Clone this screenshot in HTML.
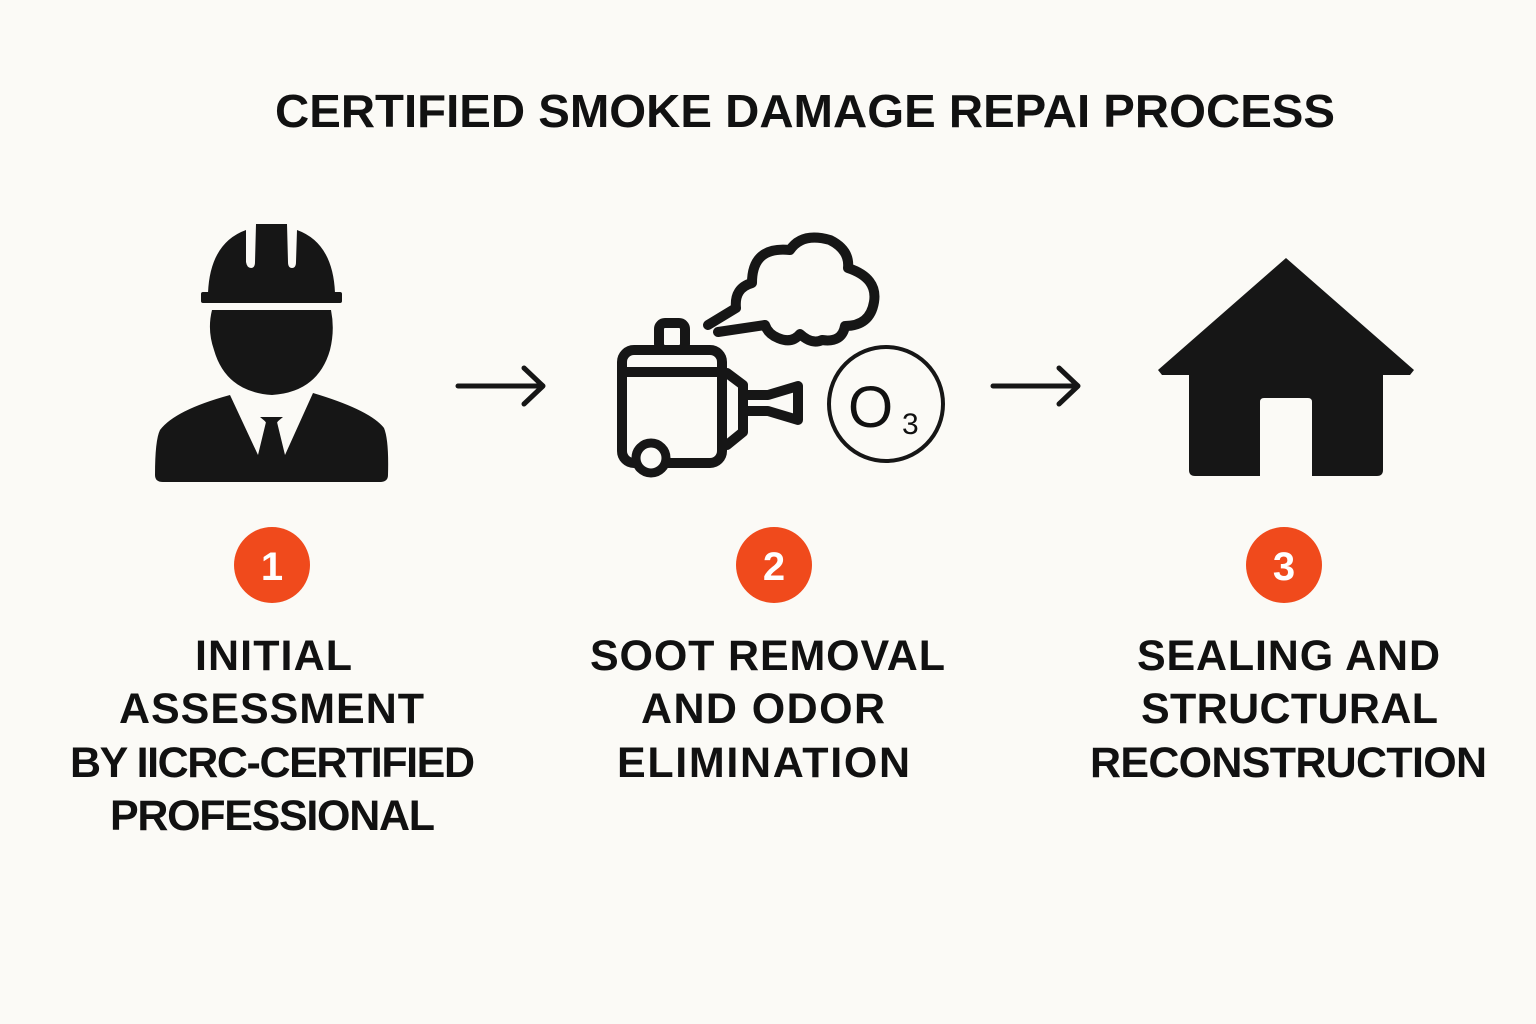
<!DOCTYPE html>
<html><head><meta charset="utf-8"><style>
html,body{margin:0;padding:0;background:#fbfaf6}
svg{display:block}
text{font-family:"Liberation Sans","DejaVu Sans",sans-serif;font-weight:bold;fill:#111}
</style></head><body>
<svg width="1536" height="1024" viewBox="0 0 1536 1024">
<rect width="1536" height="1024" fill="#fbfaf6"/>
<text x="275" y="127" font-size="46" textLength="1060" lengthAdjust="spacingAndGlyphs">CERTIFIED SMOKE DAMAGE REPAI PROCESS</text>
<!-- person -->
<g fill="#161616">
<path d="M208 293 Q210 243 246 230 L246 262 Q247 268 251 268 Q255 268 255 262 L256 224 L287 224 L288 262 Q288 268 292 268 Q296 268 296 262 L297 230 Q333 243 335 293 Z"/>
<rect x="201" y="292" width="141" height="11" rx="2"/>
<path d="M212 310 L331 310 Q335 330 330 350 Q318 392 272 395 Q226 392 214 350 Q207 330 212 310 Z"/>
<path d="M230 395 L258 455 L266 422 L260 417 L283 417 L277 422 L285 455 L313 393 Q370 410 384 428 Q389 440 388 475 Q388 482 380 482 L163 482 Q155 482 155 475 Q155 440 160 430 Q175 410 230 395 Z"/>
<path d="M262 417 L281 417 L276 424 L283 450 L272 458 L261 450 L267 424 Z"/>
</g>
<!-- arrows -->
<g stroke="#161616" stroke-width="5" fill="none" stroke-linecap="round" stroke-linejoin="round">
<line x1="458" y1="386" x2="542" y2="386"/><polyline points="524,368 543,386 524,404"/>
<line x1="993" y1="386" x2="1077" y2="386"/><polyline points="1059,368 1078,386 1059,404"/>
</g>
<!-- steamer -->
<g stroke="#161616" stroke-width="10" fill="none" stroke-linejoin="round" stroke-linecap="round">
<rect x="622" y="350" width="100" height="113" rx="12"/>
<rect x="659" y="323" width="26" height="27" rx="6"/>
<line x1="622" y1="372" x2="722" y2="372"/>
<path d="M727 373 L743 385 L743 432 L727 445"/>
<path d="M743 395 L768 395 L798 386 L798 420 L768 411 L743 411"/>
<path d="M708 325 L736 308 Q734 288 752 283 Q752 246 790 250 Q802 232 830 240 Q850 250 848 268 Q878 278 874 302 Q870 326 845 326 Q842 343 822 340 Q812 345 800 334 Q792 344 778 338 Q768 334 765 325 L718 332"/>
</g>
<circle cx="651" cy="458" r="15" fill="#fbfaf6" stroke="#161616" stroke-width="9"/>
<circle cx="886" cy="404" r="57" fill="none" stroke="#161616" stroke-width="4"/>
<text x="848" y="427" font-size="58" style="font-weight:normal">O</text>
<text x="902" y="434" font-size="30" style="font-weight:normal">3</text>
<!-- house -->
<g fill="#161616">
<path d="M1286 258 L1414 370 L1410 375 L1383 375 L1383 470 Q1383 476 1377 476 L1318 476 L1312 476 L1312 402 Q1312 398 1308 398 L1264 398 Q1260 398 1260 402 L1260 476 L1195 476 Q1189 476 1189 470 L1189 375 L1162 375 L1158 370 Z"/>
</g>
<!-- badges -->
<g fill="#f04a1c"><circle cx="272" cy="565" r="38"/><circle cx="774" cy="565" r="38"/><circle cx="1284" cy="565" r="38"/></g>
<g font-size="40" text-anchor="middle"><text x="272" y="580" style="fill:#fff">1</text><text x="774" y="580" style="fill:#fff">2</text><text x="1284" y="580" style="fill:#fff">3</text></g>
<g font-size="43" lengthAdjust="spacingAndGlyphs">
<text x="195" y="670" textLength="157">INITIAL</text><text x="119" y="723" textLength="305">ASSESSMENT</text><text x="70" y="777" textLength="405">BY IICRC-CERTIFIED</text><text x="110" y="830" textLength="325">PROFESSIONAL</text>
<text x="590" y="670" textLength="355">SOOT REMOVAL</text><text x="641" y="723" textLength="244">AND ODOR</text><text x="617" y="777" textLength="293">ELIMINATION</text>
<text x="1137" y="670" textLength="303">SEALING AND</text><text x="1141" y="723" textLength="297">STRUCTURAL</text><text x="1090" y="777" textLength="397">RECONSTRUCTION</text>
</g>
</svg>
</body></html>
